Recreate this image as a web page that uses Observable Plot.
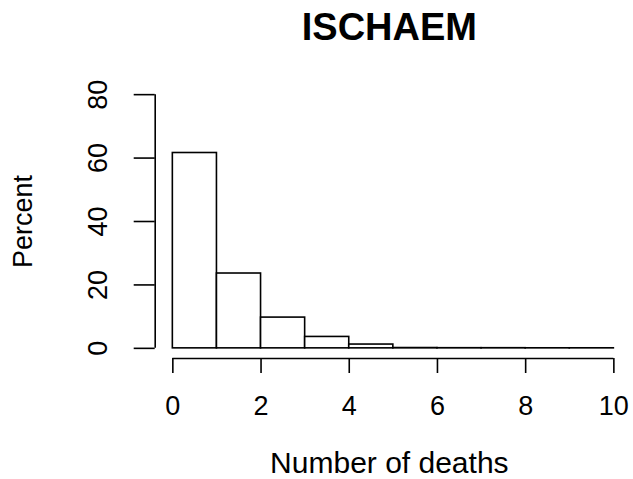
<!DOCTYPE html>
<html>
<head>
<meta charset="utf-8">
<script src="https://cdn.jsdelivr.net/npm/d3@7"></script>
<script src="https://cdn.jsdelivr.net/npm/@observablehq/plot@0.6"></script>
<style>
  html, body { margin: 0; padding: 0; background: #fff; }
  svg { display: block; }
</style>
</head>
<body>
<div id="chart"></div>
<script>
// Data
const binStart = [0, 1, 2, 3, 4, 5, 6, 7, 8, 9];
const binEnd   = [1, 2, 3, 4, 5, 6, 7, 8, 9, 10];
const percent  = [61.6, 23.6, 9.7, 3.6, 1.2, 0.1, 0.05, 0.05, 0.02, 0.02];
const xTicks = [0, 2, 4, 6, 8, 10];
const yTicks = [0, 20, 40, 60, 80];
const title = "ISCHAEM";
const xLabel = "Number of deaths";
const yLabel = "Percent";

const bins = binStart.map((s, i) => ({x1: s, x2: binEnd[i], y: percent[i]}));

// R-style 4% axis extension
const xMin = -0.4, xMax = 10.4, yMin = -3.2, yMax = 83.2;
const font = "'Liberation Sans', Arial, Helvetica, sans-serif";

const chart = Plot.plot({
  width: 633,
  height: 479,
  marginLeft: 154.7,
  marginRight: 2,
  marginTop: 84,
  marginBottom: 121,
  style: {fontFamily: font, background: "white", color: "black"},
  x: {domain: [xMin, xMax], axis: null},
  y: {domain: [yMin, yMax], axis: null},
  marks: [
    Plot.rect(bins, {x1: "x1", x2: "x2", y1: 0, y2: "y", fill: "white", stroke: "black", strokeWidth: 1.6, inset: 0}),
    // y axis
    Plot.ruleX([xMin], {y1: yTicks[0], y2: yTicks[yTicks.length - 1], stroke: "black", strokeWidth: 1.6}),
    Plot.axisY({anchor: "left", ticks: yTicks, tickSize: 21, tickFormat: () => "", label: null, stroke: "black", strokeWidth: 1.6}),
    Plot.text(yTicks, {y: d => d, text: d => String(d), frameAnchor: "left", dx: -57, rotate: -90, textAnchor: "middle", lineAnchor: "middle", fontSize: 27, fill: "black"}),
    Plot.text([yLabel], {text: d => d, frameAnchor: "left", dx: -132, rotate: -90, textAnchor: "middle", lineAnchor: "middle", fontSize: 27, fill: "black"}),
    // x axis
    Plot.ruleY([yMin], {x1: xTicks[0], x2: xTicks[xTicks.length - 1], stroke: "black", strokeWidth: 1.6}),
    Plot.axisX({anchor: "bottom", ticks: xTicks, tickSize: 15, tickFormat: () => "", label: null, stroke: "black", strokeWidth: 1.6}),
    Plot.text(xTicks, {x: d => d, text: d => String(d), frameAnchor: "bottom", dy: 48, textAnchor: "middle", lineAnchor: "middle", fontSize: 27, fill: "black"}),
    Plot.text([xLabel], {text: d => d, frameAnchor: "bottom", dy: 105, dx: -4, textAnchor: "middle", lineAnchor: "middle", fontSize: 30, fill: "black"}),
    // title
    Plot.text([title], {text: d => d, frameAnchor: "top", dy: -57, dx: -4, textAnchor: "middle", lineAnchor: "middle", fontSize: 38, fontWeight: "bold", fill: "black"})
  ]
});
document.getElementById("chart").appendChild(chart);
</script>
</body>
</html>
